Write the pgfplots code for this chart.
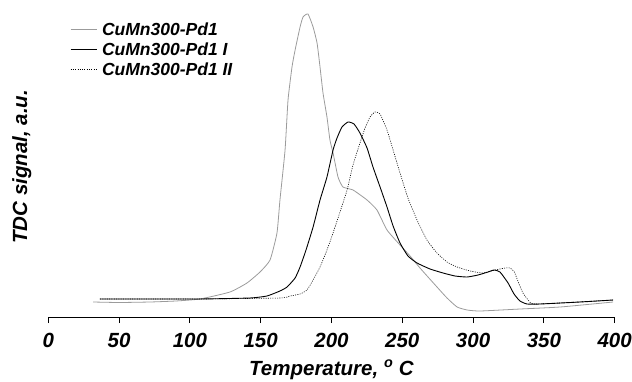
\documentclass[border=0pt]{standalone}
\usepackage{pgfplots}
\pgfplotsset{compat=1.18}
\usepackage{fontspec}
\setmainfont{Liberation Sans}
\definecolor{grayline}{RGB}{155,155,155}
\begin{document}
\begin{tikzpicture}
\begin{axis}[
  scale only axis,
  width=566.4pt, height=307pt,
  xmin=0, xmax=400, ymin=0, ymax=307,
  axis x line=bottom, axis y line=none,
  x axis line style={-, line width=0.8pt},
  xtick={0,50,...,400},
  tick align=outside,
  major tick length=6pt,
  xtick style={line width=0.8pt, black},
  /pgf/number format/assume math mode=true,
  xticklabel style={font=\fontsize{20.5}{24}\selectfont\bfseries\itshape, inner sep=0pt, yshift=-10pt},
  xlabel={Temperature, \textsuperscript{o} C},
  xlabel style={font=\fontsize{20.5}{24}\selectfont\bfseries\itshape, at={(axis description cs:0.5,0)}, anchor=base, yshift=-58pt},
  clip=false,
  legend style={at={(axis cs:15.3,295)}, anchor=north west, draw=none, fill=none, inner sep=0pt, row sep=5.3pt, column sep=4pt,
    font=\fontsize{17.5}{19}\selectfont\bfseries\itshape,
    nodes={inner sep=1pt, text height=12.5pt, text depth=0pt}},
  legend cell align=left,
  legend image code/.code={\draw[#1] (0pt,0pt) -- (26pt,0pt);},
]
\coordinate (O) at (rel axis cs:0,0);
\node[rotate=90, anchor=center, inner sep=0pt, font=\fontsize{20.5}{24}\selectfont\bfseries\itshape]
  at ([xshift=-26.5pt]rel axis cs:0,0.489) {TDC signal, a.u.};
\addplot[grayline, line width=0.8pt, smooth, tension=0.3] coordinates {
(31.6,15) (50,14.5) (71.8,15) (90,16) (107.1,18) (128.3,25) (140.3,34) (149.5,45) (156.6,57)
(161.5,84) (163.6,117) (167.2,167) (169.3,217) (172.1,250) (174.3,267) (177.8,290) (179.9,300)
(183.4,303) (187.0,290) (189.8,274) (191.9,250) (194.0,224) (196.8,200) (198.9,177) (201.1,164)
(204.6,140) (208.1,130) (215.2,127) (225.1,117) (232.1,107) (239.2,87) (248.4,72) (255.5,61)
(262.5,49) (274.5,30) (281.6,19) (288.7,10) (295.8,7) (304.9,6) (333.2,8) (361.5,10) (398.9,15)
};
\addlegendentry{CuMn300-Pd1}
\addplot[black, line width=0.9pt, smooth, tension=0.3] coordinates {
(36.5,18) (71.8,18) (107.1,18) (142.4,19) (154.4,21) (163.6,26) (168.6,30) (174.3,39) (177.8,50)
(182.0,67) (187.0,90) (191.9,117) (196.8,140) (201.1,167) (203.9,179) (207.4,190) (211.7,195)
(215.9,193) (220.1,184) (225.1,169) (229.3,150) (234.3,130) (239.2,110) (243.5,91) (248.4,74)
(254.0,61) (260.4,54) (269.6,48) (278.8,44) (287.2,41) (295.7,40) (303.5,42) (310.5,45) (314.8,47)
(319.0,45) (324.7,34) (328.9,23) (333.1,16) (338.1,13) (347.3,13) (375.5,15) (398.9,17)
};
\addlegendentry{CuMn300-Pd1 I}
\addplot[black, line width=0.6pt, dash pattern=on 1pt off 1.3pt, smooth, tension=0.3] coordinates {
(36.5,18) (107.1,18) (163.6,19) (170.7,21) (177.8,23) (182.7,27) (187.0,37) (191.9,50) (196.8,67)
(201.1,84) (206.0,105) (211.0,127) (215.2,152) (220.1,174) (223.7,189) (227.2,200) (230.7,205)
(234.3,203) (239.2,187) (243.5,167) (248.4,144) (254.0,119) (260.4,97) (267.4,77) (274.5,64)
(281.6,55) (288.7,50) (297.9,46) (307.1,44) (315.6,47) (322.7,49) (326.2,49) (329.1,45) (331.9,35)
(335.2,24) (338.9,17) (342.3,13) (361.5,14) (398.9,17)
};
\addlegendentry{CuMn300-Pd1 II}
\end{axis}
\pgfresetboundingbox
\path (O) ++(-48.3pt,-64pt) rectangle ++(632pt,381pt);
\end{tikzpicture}
\end{document}
